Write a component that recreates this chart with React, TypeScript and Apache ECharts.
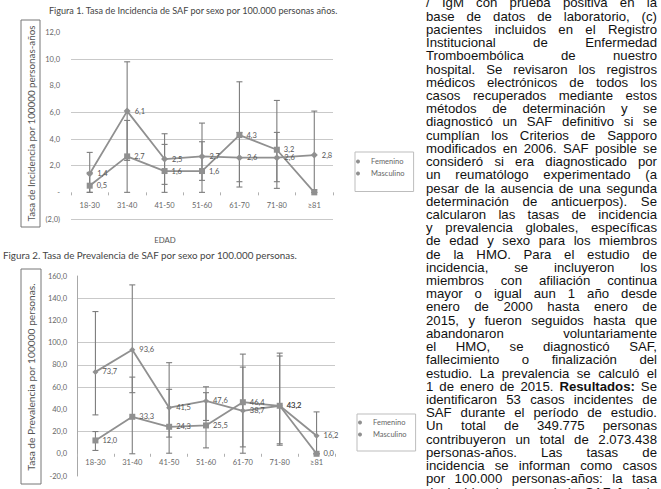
import React, { useEffect, useRef } from 'react';
import * as echarts from 'echarts';

// ---------- Data ----------
const categories = ['18-30', '31-40', '41-50', '51-60', '61-70', '71-80', '≥81'];

// Figura 1: incidencia por 100.000 personas-años
const incFem = [1.4, 6.1, 2.5, 2.7, 2.6, 2.6, 2.8];
const incMasc = [0.5, 2.7, 1.6, 1.6, 4.3, 3.2, 0.0];
const incFemLo = [0.0, 2.4, 0.6, 0.9, 0.8, 0.8, 0.2];
const incFemHi = [3.0, 9.8, 4.4, 5.2, 4.5, 4.5, 6.1];
const incMascLo = [0.0, 0.0, 0.0, 0.0, 0.4, 0.3, 0.0];
const incMascHi = [1.5, 5.4, 3.6, 3.8, 8.3, 6.9, 0.0];

// Figura 2: prevalencia por 100.000 personas
const prevFem = [73.7, 93.6, 41.5, 47.6, 38.7, 43.2, 16.2];
const prevMasc = [12.0, 33.3, 24.3, 25.5, 46.4, 43.2, 0.0];
const prevFemLo = [35, 55, 15, 30, 6.2, 7.7, 0];
const prevFemHi = [128, 152, 82, 60.3, 78, 90.6, 37.7];
const prevMascLo = [3, 0, 0.5, 5.3, 0.5, 9, 0];
const prevMascHi = [20, 69, 58, 55, 89.7, 88, 0];

const seriesNames = ['Femenino', 'Masculino'];

const title1 = 'Figura 1. Tasa de Incidencia de SAF por sexo por 100.000 personas años.';
const title2 = 'Figura 2. Tasa de Prevalencia de SAF por sexo por 100.000 personas.';
const yName1 = 'Tasa de Incidencia por 100000 personas-años';
const yName2 = 'Tasa de Prevalencia por 100000 personas.';
const xName = 'EDAD';

const paragraphLines = [
  '/ IgM con prueba positiva en la',
  'base de datos de laboratorio, (c)',
  'pacientes incluidos en el Registro',
  'Institucional de Enfermedad',
  'Tromboembólica de nuestro',
  'hospital. Se revisaron los registros',
  'médicos electrónicos de todos los',
  'casos recuperados mediante estos',
  'métodos de determinación y se',
  'diagnosticó un SAF definitivo si se',
  'cumplían los Criterios de Sapporo',
  'modificados en 2006. SAF posible se',
  'consideró si era diagnosticado por',
  'un reumatólogo experimentado (a',
  'pesar de la ausencia de una segunda',
  'determinación de anticuerpos). Se',
  'calcularon las tasas de incidencia',
  'y prevalencia globales, específicas',
  'de edad y sexo para los miembros',
  'de la HMO. Para el estudio de',
  'incidencia, se incluyeron los',
  'miembros con afiliación continua',
  'mayor o igual aun 1 año desde',
  'enero de 2000 hasta enero de',
  '2015, y fueron seguidos hasta que',
  'abandonaron voluntariamente',
  'el HMO, se diagnosticó SAF,',
  'fallecimiento o finalización del',
  'estudio. La prevalencia se calculó el',
  '1 de enero de 2015. Resultados: Se',
  'identificaron 53 casos incidentes de',
  'SAF durante el período de estudio.',
  'Un total de 349.775 personas',
  'contribuyeron un total de 2.073.438',
  'personas-años. Las tasas de',
  'incidencia se informan como casos',
  'por 100.000 personas-años: la tasa',
  'de incidencia general de SAF fue de',
];
const boldWords = ['Resultados:'];

// ---------- Styling constants ----------
const CHART_FONT = 'Lato, "Open Sans", sans-serif';
const TEXT_FONT = '"Liberation Sans", Arial, sans-serif';
const TEXT_SIZE = 13.2;
const TEXT_LEFT = 426;
const TEXT_WIDTH = 231;
const TEXT_BASE0 = 7.5;
const TEXT_LH = 13.22;
const LINE_GRAY = '#909090';
const GRID_C = '#c9c9c9';
const NONE = 'rgba(0,0,0,0)';

// plot areas
const G1 = { left: 71, top: 32.5, width: 262, height: 186.5 };
const G2 = { left: 77, top: 276, width: 258, height: 200 };
const Y1 = { min: -2, max: 12, interval: 2 };
const Y2 = { min: -20, max: 160, interval: 20 };
// distance (px) from plot bottom up to the value 0, derived from axis ranges
const zeroOffset = (g: { height: number }, y: { min: number; max: number }) =>
  (g.height * (0 - y.min)) / (y.max - y.min);

const fmt1 = (v: number) => v.toFixed(1).replace('.', ',');
const fmtInc = (v: number) => (v === 0 ? '-' : v < 0 ? `(${fmt1(-v)})` : fmt1(v));

function buildParagraph(): any[] {
  const canvas = document.createElement('canvas');
  const ctx = canvas.getContext('2d') as CanvasRenderingContext2D;
  const out: any[] = [];
  paragraphLines.forEach((line, li) => {
    const words = line.split(' ').filter(Boolean);
    const widths = words.map((w) => {
      ctx.font = `${boldWords.includes(w) ? 'bold ' : ''}${TEXT_SIZE}px ${TEXT_FONT}`;
      return ctx.measureText(w).width;
    });
    const total = widths.reduce((a, b) => a + b, 0);
    const gap = words.length > 1 ? (TEXT_WIDTH - total) / (words.length - 1) : 0;
    let x = TEXT_LEFT;
    const y = TEXT_BASE0 + li * TEXT_LH - 0.3465 * TEXT_SIZE;
    words.forEach((w, wi) => {
      out.push({
        type: 'text',
        x,
        y,
        silent: true,
        style: {
          text: w,
          fontFamily: TEXT_FONT,
          fontSize: TEXT_SIZE,
          lineHeight: TEXT_LH,
          fontWeight: boldWords.includes(w) ? 'bold' : 'normal',
          fill: '#111',
          align: 'left',
          verticalAlign: 'middle',
        },
      });
      x += widths[wi] + gap;
    });
  });
  return out;
}

function lineSeries(name: string, data: number[], symbol: string, size: number, idx: number, fmt: (v: number) => string) {
  return {
    type: 'line',
    name,
    xAxisIndex: idx,
    yAxisIndex: idx,
    data,
    symbol,
    symbolSize: size,
    z: 3,
    lineStyle: { color: LINE_GRAY, width: 1.8 },
    itemStyle: { color: LINE_GRAY },
    label: {
      show: true,
      position: 'right',
      distance: 4,
      fontSize: 7.5,
      fontFamily: CHART_FONT,
      color: '#555',
      formatter: (p: any) => fmt(p.value),
    },
  };
}

function errSeries(name: string, lo: number[], hi: number[], idx: number) {
  return {
    type: 'custom',
    name,
    xAxisIndex: idx,
    yAxisIndex: idx,
    silent: true,
    z: 2,
    data: categories.map((_, i) => [i, lo[i], hi[i]]),
    encode: { x: 0, y: [1, 2] },
    renderItem: (params: any, api: any) => {
      const i = api.value(0);
      const p1 = api.coord([i, api.value(1)]);
      const p2 = api.coord([i, api.value(2)]);
      const w = 3;
      const style = { stroke: '#7d7d7d', lineWidth: 1.1 };
      return {
        type: 'group',
        children: [
          { type: 'line', shape: { x1: p1[0], y1: p1[1], x2: p2[0], y2: p2[1] }, style },
          { type: 'line', shape: { x1: p1[0] - w, y1: p1[1], x2: p1[0] + w, y2: p1[1] }, style },
          { type: 'line', shape: { x1: p2[0] - w, y1: p2[1], x2: p2[0] + w, y2: p2[1] }, style },
        ],
      };
    },
  };
}

function catAxis(gridIndex: number, margin: number, offset: number) {
  return {
    type: 'category',
    gridIndex,
    data: categories,
    boundaryGap: true,
    position: 'bottom',
    offset: -offset,
    axisLine: { show: true, onZero: false, lineStyle: { color: NONE } },
    axisTick: { show: true, length: 3, lineStyle: { color: '#b0b0b0' } },
    axisLabel: { fontSize: 7.5, fontFamily: CHART_FONT, color: '#666', margin },
    splitLine: { show: false },
  };
}

function legendBox(top: number, left: number, padding: number[]) {
  return {
    data: seriesNames,
    orient: 'vertical',
    left,
    top,
    icon: 'circle',
    itemWidth: 16,
    itemHeight: 4,
    itemGap: 4,
    padding,
    borderColor: '#bdbdbd',
    borderWidth: 1,
    selectedMode: false,
    textStyle: { fontSize: 7.5, fontFamily: CHART_FONT, color: '#666' },
  };
}

export default function App() {
  const ref = useRef<HTMLDivElement>(null);

  useEffect(() => {
    document.body.style.margin = '0';
    if (!ref.current) return;
    const chart = echarts.init(ref.current, null, { renderer: 'svg' });

    const graphics: any[] = [
      { type: 'text', x: 49, y: 10, silent: true, style: { text: title1, fontSize: 9.1, fontFamily: CHART_FONT, fill: '#444', verticalAlign: 'middle' } },
      { type: 'text', x: 3, y: 255, silent: true, style: { text: title2, fontSize: 9.8, fontFamily: CHART_FONT, fill: '#444', verticalAlign: 'middle' } },
      { type: 'text', x: 165, y: 240, silent: true, style: { text: xName, fontSize: 7.8, fontFamily: CHART_FONT, fill: '#555', align: 'center', verticalAlign: 'middle' } },
      { type: 'rect', shape: { x: 21, y: 20, width: 19, height: 207 }, silent: true, style: { fill: 'none', stroke: '#777', lineWidth: 1 } },
      { type: 'text', x: 31, y: 123.5, rotation: Math.PI / 2, silent: true, style: { text: yName1, fontSize: 9.8, fontFamily: CHART_FONT, fill: '#555', align: 'center', verticalAlign: 'middle' } },
      { type: 'rect', shape: { x: 21, y: 269, width: 20, height: 215 }, silent: true, style: { fill: 'none', stroke: '#777', lineWidth: 1 } },
      { type: 'text', x: 31, y: 377, rotation: Math.PI / 2, silent: true, style: { text: yName2, fontSize: 10.2, fontFamily: CHART_FONT, fill: '#555', align: 'center', verticalAlign: 'middle' } },
      ...buildParagraph(),
    ];

    const option: any = {
      animation: false,
      backgroundColor: '#fff',
      grid: [
        { ...G1, containLabel: false },
        { ...G2, containLabel: false },
      ],
      legend: [legendBox(152, 355, [5.5, 9, 14, 1]), legendBox(414, 357, [4.5, 9, 12.5, 1])],
      xAxis: [catAxis(0, 9, zeroOffset(G1, Y1)), catAxis(1, 5, zeroOffset(G2, Y2))],
      yAxis: [
        {
          type: 'value',
          gridIndex: 0,
          ...Y1,
          axisLine: { show: false },
          axisTick: { show: false },
          axisLabel: { fontSize: 7.5, fontFamily: CHART_FONT, color: '#666', margin: 11, formatter: (v: number) => fmtInc(v) },
          splitLine: { show: true, lineStyle: { width: 1, color: [GRID_C, NONE, GRID_C, GRID_C, GRID_C, NONE, GRID_C, NONE] } },
        },
        {
          type: 'value',
          gridIndex: 1,
          ...Y2,
          axisLine: { show: true, lineStyle: { color: '#a8a8a8', width: 1 } },
          axisTick: { show: false },
          axisLabel: { fontSize: 7.5, fontFamily: CHART_FONT, color: '#666', margin: 10, formatter: (v: number) => fmt1(v) },
          splitLine: { show: true, lineStyle: { width: 1, color: [NONE, NONE, GRID_C, NONE, GRID_C, GRID_C, GRID_C, NONE, GRID_C, NONE] } },
        },
      ],
      series: [
        errSeries('IC Femenino inc', incFemLo, incFemHi, 0),
        errSeries('IC Masculino inc', incMascLo, incMascHi, 0),
        lineSeries('Femenino', incFem, 'diamond', 7, 0, (v) => (v === 0 ? '' : fmt1(v))),
        lineSeries('Masculino', incMasc, 'rect', 6, 0, (v) => (v === 0 ? '' : fmt1(v))),
        errSeries('IC Femenino prev', prevFemLo, prevFemHi, 1),
        errSeries('IC Masculino prev', prevMascLo, prevMascHi, 1),
        lineSeries('Femenino', prevFem, 'diamond', 6, 1, fmt1),
        lineSeries('Masculino', prevMasc, 'rect', 6, 1, fmt1),
      ],
      graphic: { elements: graphics },
    };

    chart.setOption(option);
    return () => chart.dispose();
  }, []);

  return <div ref={ref} style={{ width: 661, height: 489 }} />;
}
